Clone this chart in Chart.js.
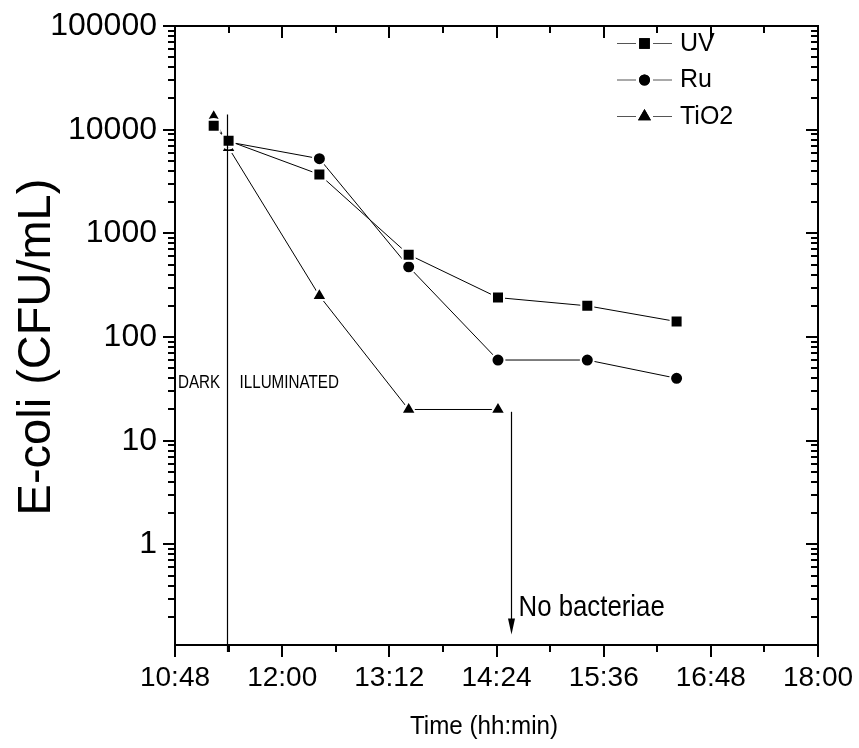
<!DOCTYPE html>
<html>
<head>
<meta charset="utf-8">
<script src="https://cdn.jsdelivr.net/npm/chart.js@4.4.1/dist/chart.umd.min.js"></script>
<style>
  html, body { margin: 0; padding: 0; background: #fff; }
  #wrap { width: 859px; height: 748px; }
</style>
</head>
<body>
<div id="wrap"><canvas id="myChart" width="859" height="748"></canvas></div>
<script>
// times in minutes after midnight
const times = [674, 684, 745, 805, 865, 925, 985];
const tio2Times = [674, 684, 745, 805, 865];

const uvValues = [10900, 7800, 3700, 623, 240, 200, 141];
const ruValues = [11000, 7600, 5250, 476, 60, 60, 40];
const tio2Values = [13300, 6700, 250, 20, 20];

const seriesNames = ["UV", "Ru", "TiO2"];
const seriesShapes = ["rect", "circle", "triangle"];

const xTickValues = [648, 720, 792, 864, 936, 1008, 1080];
const yTickValues = [1, 10, 100, 1000, 10000, 100000];

// dark / illuminated split and the "no bacteriae" arrow
const darkLineTime = 683;
const darkLineTop = 14000;
const arrowTime = 874;
const arrowFrom = 19;
const arrowTo = 0.135;

const FONT = "'Liberation Sans', Arial, sans-serif";

function toPoints(xs, ys) {
  return xs.map((x, i) => ({ x: x, y: ys[i] }));
}

function hhmm(v) {
  const h = Math.floor(v / 60);
  const m = v % 60;
  return h + ":" + String(m).padStart(2, "0");
}

function makeSet(i, xs, ys) {
  const radius = [8.5, 6.5, 8.6][i];
  return {
    label: seriesNames[i],
    data: toPoints(xs, ys),
    showLine: true,
    borderColor: "#000",
    borderWidth: 1,
    backgroundColor: "#000",
    pointStyle: seriesShapes[i],
    pointRadius: radius,
    pointHoverRadius: radius,
    pointBackgroundColor: "#000",
    pointBorderColor: "#fff",
    pointBorderWidth: 2,
    tension: 0,
  };
}

// squeezed text, to get the narrow look of the original
function narrowText(ctx, text, x, y, size, squeeze) {
  ctx.save();
  ctx.translate(x, y);
  ctx.scale(squeeze, 1);
  ctx.font = size + "px " + FONT;
  ctx.fillText(text, 0, 0);
  ctx.restore();
}

// frame, ticks, annotations, titles and legend
const extras = {
  id: "extras",
  afterDraw(chart) {
    const ctx = chart.ctx;
    const xs = chart.scales.x;
    const ys = chart.scales.y;
    const a = chart.chartArea;
    ctx.save();
    ctx.strokeStyle = "#000";
    ctx.fillStyle = "#000";

    // frame
    ctx.lineWidth = 2;
    ctx.strokeRect(a.left, a.top, a.right - a.left, a.bottom - a.top);

    // x ticks (bottom outward, top inward)
    ctx.beginPath();
    for (let v = xs.min; v <= xs.max + 0.1; v += 36) {
      const px = Math.round(xs.getPixelForValue(v));
      const len = (v - xs.min) % 72 === 0 ? 12 : 7;
      ctx.moveTo(px, a.bottom);
      ctx.lineTo(px, a.bottom + len);
      ctx.moveTo(px, a.top);
      ctx.lineTo(px, a.top + len);
    }
    // y ticks (left outward, right inward)
    for (let d = 0.1; d <= 100000; d *= 10) {
      for (let k = 1; k <= 9; k++) {
        const v = Math.round(d * k * 1000) / 1000;
        if (v < ys.min || v > ys.max * 1.0001) continue;
        const py = Math.round(ys.getPixelForValue(v));
        const len = k === 1 ? 12 : 7;
        ctx.moveTo(a.left, py);
        ctx.lineTo(a.left - len, py);
        ctx.moveTo(a.right, py);
        ctx.lineTo(a.right - len, py);
      }
    }
    ctx.stroke();

    // dark / illuminated divider
    ctx.lineWidth = 1.2;
    const dx = Math.round(xs.getPixelForValue(darkLineTime)) + 0.5;
    ctx.beginPath();
    ctx.moveTo(dx, ys.getPixelForValue(darkLineTop));
    ctx.lineTo(dx, a.bottom + 7);
    ctx.stroke();

    ctx.textBaseline = "alphabetic";
    ctx.textAlign = "left";
    narrowText(ctx, "DARK", a.left + 3, 388, 19, 0.8);
    narrowText(ctx, "ILLUMINATED", dx + 12, 388, 19, 0.8);

    // arrow to "No bacteriae"
    const ax = Math.round(xs.getPixelForValue(arrowTime)) + 0.5;
    const ay1 = ys.getPixelForValue(arrowFrom);
    const ay2 = ys.getPixelForValue(arrowTo);
    ctx.beginPath();
    ctx.moveTo(ax, ay1);
    ctx.lineTo(ax, ay2 - 14);
    ctx.stroke();
    ctx.beginPath();
    ctx.moveTo(ax - 3.5, ay2 - 16);
    ctx.lineTo(ax + 3.5, ay2 - 16);
    ctx.lineTo(ax, ay2);
    ctx.closePath();
    ctx.fill();

    narrowText(ctx, "No bacteriae", ax + 7, 616, 30, 0.86);

    // axis titles
    ctx.textAlign = "center";
    ctx.textBaseline = "middle";
    narrowText(ctx, "Time (hh:min)", 484, 727, 26, 0.93);
    ctx.save();
    ctx.translate(37, 347);
    ctx.rotate(-Math.PI / 2);
    ctx.font = "47px " + FONT;
    ctx.fillText("E-coli (CFU/mL)", 0, 0);
    ctx.restore();

    // legend: line - marker - line, then label
    ctx.textAlign = "left";
    chart.data.datasets.forEach((ds, i) => {
      const cy = 43 + i * 36.5;
      ctx.lineWidth = 1;
      ctx.strokeStyle = "#555";
      ctx.beginPath();
      ctx.moveTo(617, cy + 0.5);
      ctx.lineTo(636, cy + 0.5);
      ctx.moveTo(653, cy + 0.5);
      ctx.lineTo(672, cy + 0.5);
      ctx.stroke();
      Chart.helpers.drawPoint(ctx, {
        pointStyle: ds.pointStyle,
        radius: [7.5, 5.5, 7.5][i],
        borderWidth: 0,
      }, 644.5, cy + 0.5);
      ctx.fill();
      ctx.font = "25px " + FONT;
      ctx.textBaseline = "middle";
      ctx.fillStyle = "#000";
      ctx.fillText(ds.label, 680, cy + 1);
    });
    ctx.restore();
  },
};

const ctx = document.getElementById("myChart");

const myChart = new Chart(ctx, {
  type: "scatter",
  data: {
    datasets: [
      makeSet(0, times, uvValues),
      makeSet(1, times, ruValues),
      makeSet(2, tio2Times, tio2Values),
    ],
  },
  options: {
    responsive: false,
    animation: false,
    devicePixelRatio: 1,
    layout: { padding: { top: 26, right: 41, left: 0, bottom: 0 } },
    plugins: {
      legend: { display: false },
      tooltip: { enabled: false },
    },
    scales: {
      x: {
        type: "linear",
        min: 648,
        max: 1080,
        afterBuildTicks: (scale) => {
          scale.ticks = xTickValues.map((v) => ({ value: v }));
        },
        afterFit: (scale) => {
          scale.height = 103;
          scale.paddingLeft = 0;
          scale.paddingRight = 0;
        },
        grid: { display: false, drawTicks: false },
        border: { display: false },
        ticks: {
          color: "#000",
          font: { family: FONT, size: 28 },
          padding: 16,
          maxRotation: 0,
          autoSkip: false,
          callback: (v) => hhmm(v),
        },
      },
      y: {
        type: "logarithmic",
        min: 0.107,
        max: 100000,
        afterBuildTicks: (scale) => {
          scale.ticks = yTickValues.map((v) => ({ value: v }));
        },
        afterFit: (scale) => {
          scale.width = 175;
          scale.paddingTop = 0;
          scale.paddingBottom = 0;
        },
        grid: { display: false, drawTicks: false },
        border: { display: false },
        ticks: {
          color: "#000",
          font: { family: FONT, size: 32 },
          padding: 18,
          autoSkip: false,
          callback: (v) => String(v),
        },
      },
    },
  },
  plugins: [extras],
});
</script>
</body>
</html>
